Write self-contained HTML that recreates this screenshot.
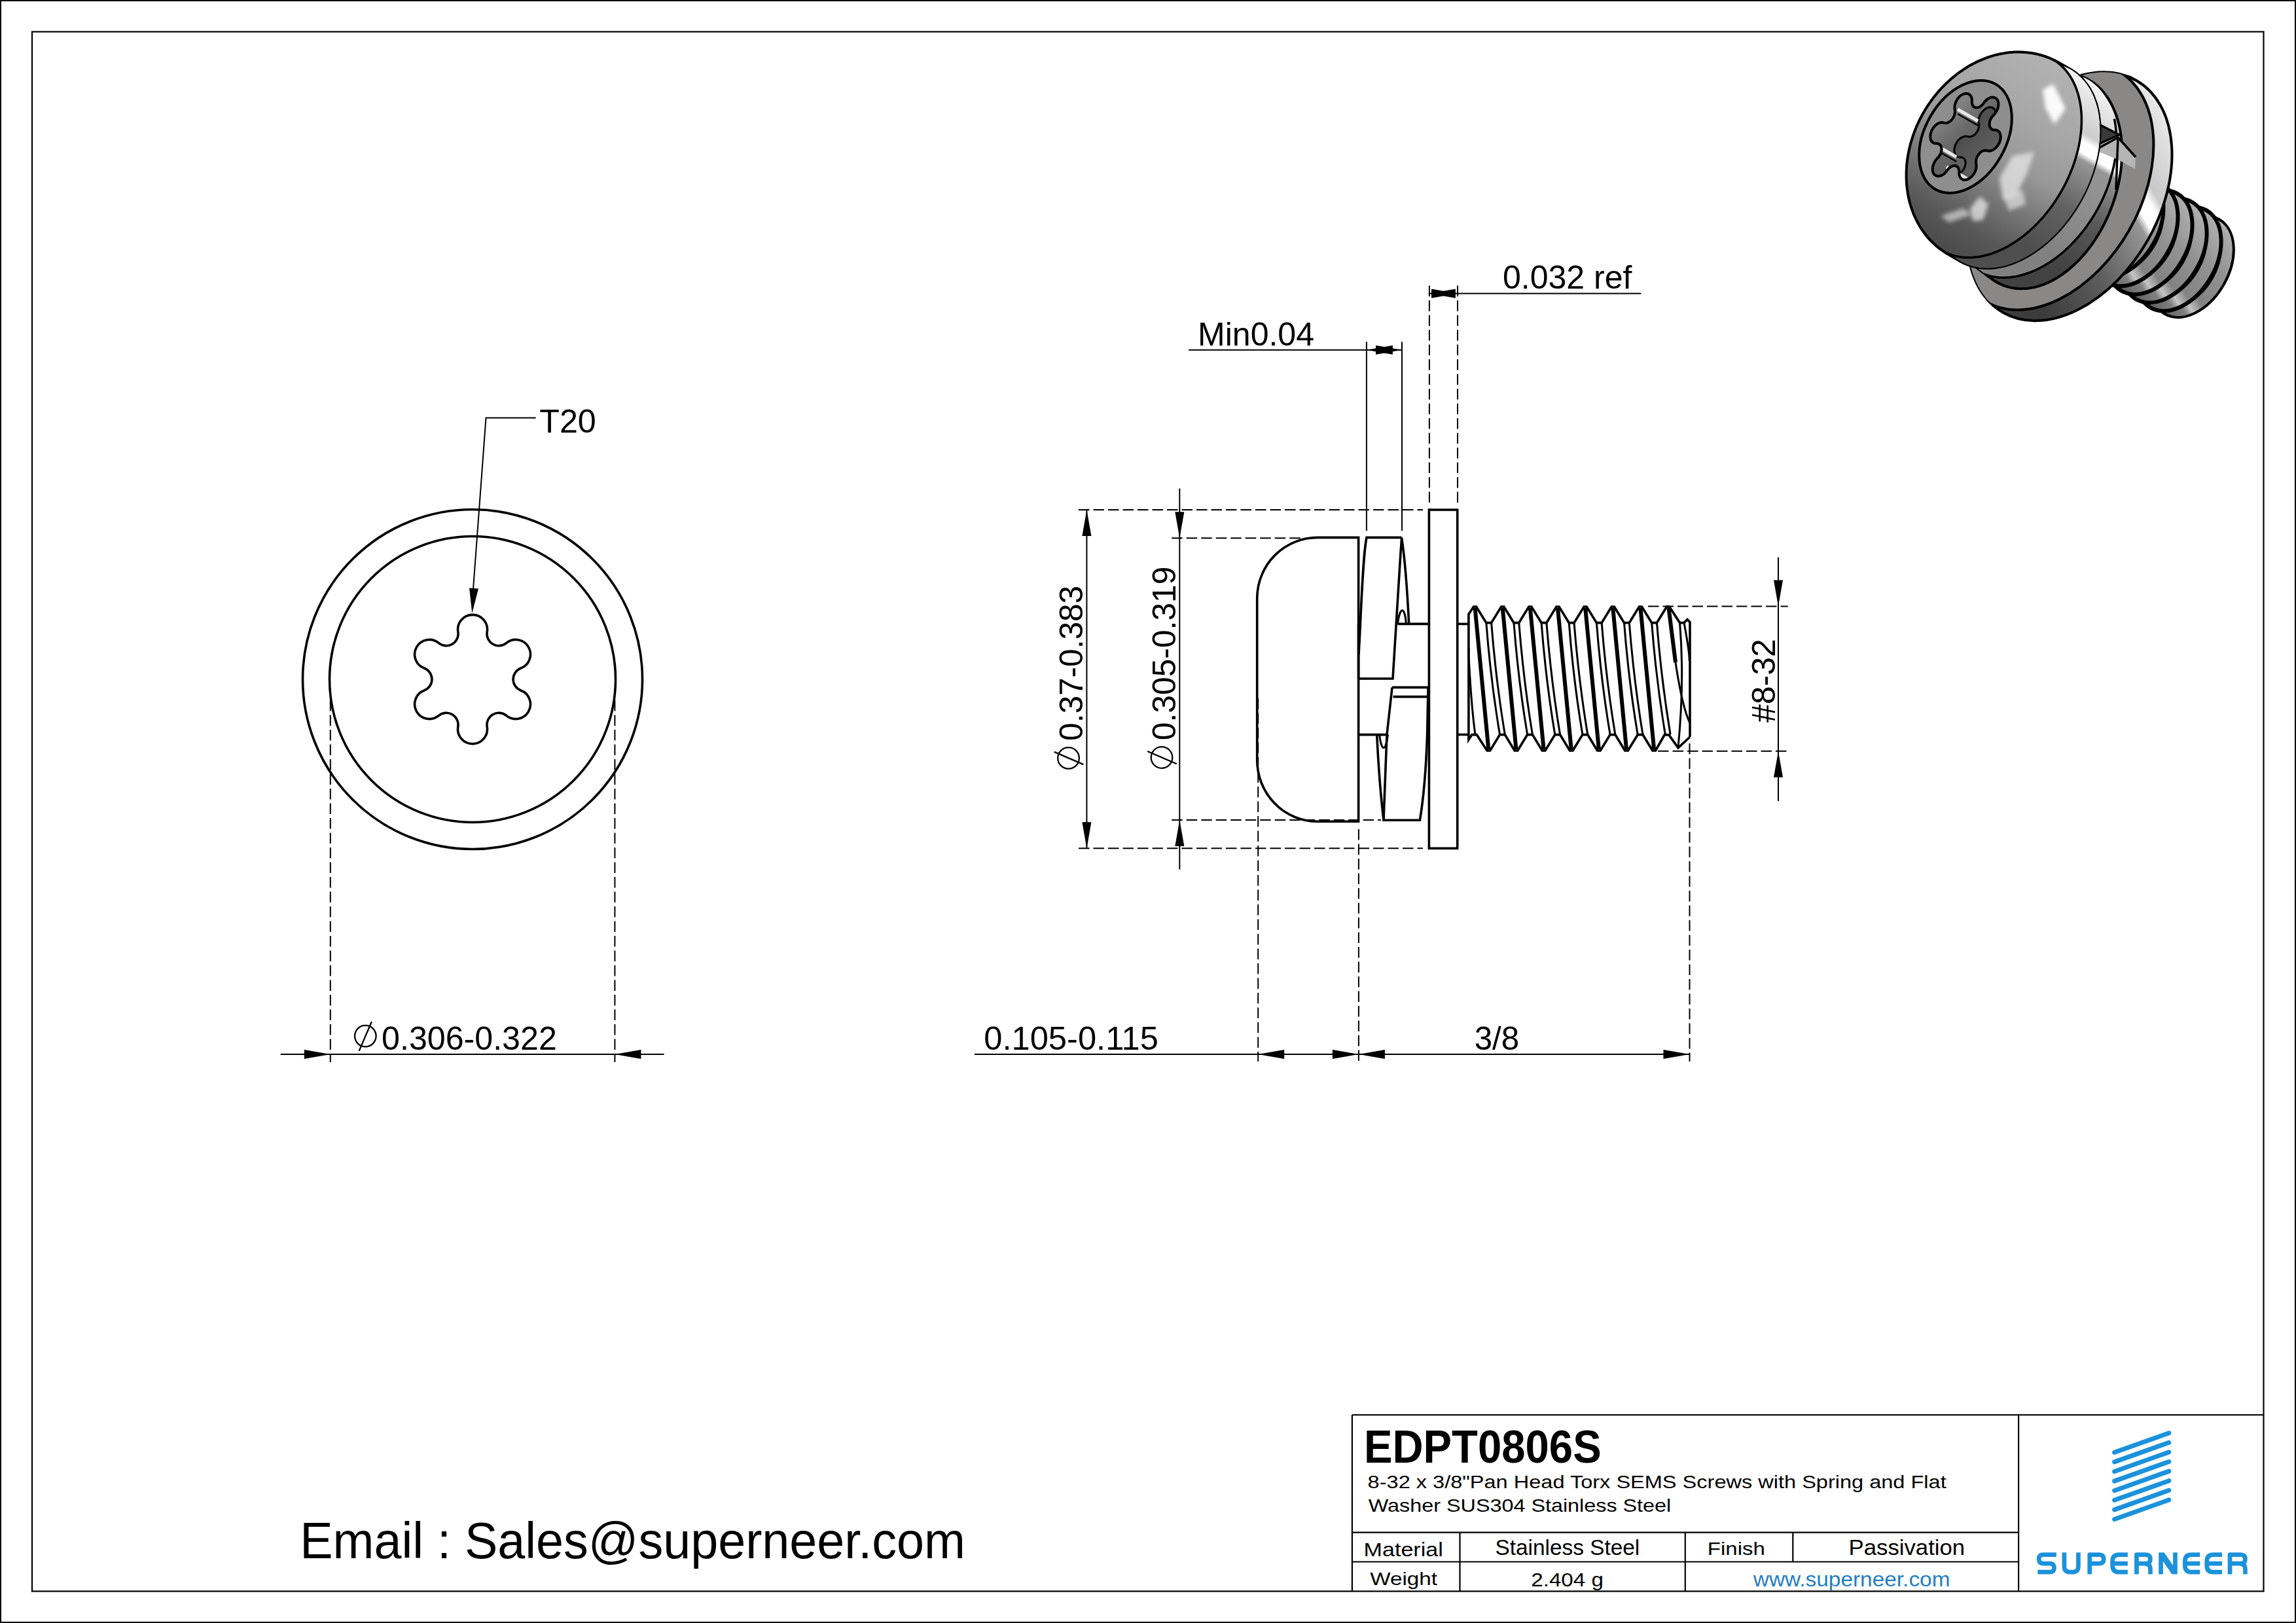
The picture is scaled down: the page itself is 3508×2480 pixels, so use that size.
<!DOCTYPE html>
<html><head><meta charset="utf-8"><style>
html,body{margin:0;padding:0;background:#fff;width:3508px;height:2480px;overflow:hidden}
svg{display:block}
text{font-family:"Liberation Sans",sans-serif}
</style></head><body>
<svg width="3508" height="2480" viewBox="0 0 3508 2480" stroke="#000" fill="none" font-family="Liberation Sans, sans-serif">
<rect x="0" y="0" width="3508" height="2480" fill="#fff" stroke="none"/>
<rect x="0.5" y="0.5" width="3507" height="2479" fill="none" stroke-width="3"/>
<rect x="49" y="48.5" width="3409.5" height="2383" fill="none" stroke-width="2.2"/>
<circle cx="722" cy="1038" r="259.5" fill="none" stroke-width="3.6"/>
<circle cx="722" cy="1038" r="218.5" fill="none" stroke-width="3.6"/>
<path d="M699.83,965.64 A22.5,22.5 0 1 1 744.2,965.65 A18.15,18.15 0 0 0 773.58,982.63 A22.5,22.5 0 1 1 795.76,1021.05 A18.15,18.15 0 0 0 795.74,1054.98 A22.5,22.5 0 1 1 773.56,1093.4 A18.15,18.15 0 0 0 744.17,1110.36 A22.5,22.5 0 1 1 699.8,1110.35 A18.15,18.15 0 0 0 670.42,1093.37 A22.5,22.5 0 1 1 648.24,1054.95 A18.15,18.15 0 0 0 648.26,1021.02 A22.5,22.5 0 1 1 670.44,982.6 A18.15,18.15 0 0 0 699.83,965.64 Z" stroke-width="3.6" fill="none" />
<path d="M818.7,638.5 L742.5,638.5 L721.5,920" stroke-width="2" fill="none" />
<path d="M721.3,937 L717.02,898.6 L730.98,899.59 Z" fill="#000" stroke="none"/>
<text id="T20" x="824.18" y="661" font-size="50" text-anchor="start" font-weight="normal" fill="#000" stroke="none" textLength="86.63" lengthAdjust="spacingAndGlyphs" >T20</text>
<line x1="428.7" y1="1610.9" x2="1014.6" y2="1610.9" stroke-width="2" stroke-linecap="butt"/>
<line x1="504.8" y1="1070" x2="504.8" y2="1623" stroke-width="2" stroke-dasharray="16.5 6" stroke-linecap="butt"/>
<line x1="939.4" y1="1070" x2="939.4" y2="1623" stroke-width="2" stroke-dasharray="16.5 6" stroke-linecap="butt"/>
<path d="M504.8,1610.9 L464.8,1617.9 L464.8,1603.9 Z" fill="#000" stroke="none"/>
<path d="M939.4,1610.9 L979.4,1603.9 L979.4,1617.9 Z" fill="#000" stroke="none"/>
<g transform="translate(558.3,1583.1) rotate(0)"><circle cx="0" cy="0" r="16.3" fill="none" stroke-width="2.3"/><line x1="-9.7" y1="22.8" x2="9.5" y2="-21.8" stroke-width="2.3"/></g>
<text id="d306" x="583.09" y="1603.6" font-size="50" text-anchor="start" font-weight="normal" fill="#000" stroke="none" textLength="267.72" lengthAdjust="spacingAndGlyphs" >0.306-0.322</text>
<line x1="1648" y1="778.9" x2="2174" y2="778.9" stroke-width="2" stroke-dasharray="16.5 6" stroke-linecap="butt"/>
<line x1="1648" y1="1296.3" x2="2174" y2="1296.3" stroke-width="2" stroke-dasharray="16.5 6" stroke-linecap="butt"/>
<line x1="1660.4" y1="778.9" x2="1660.4" y2="1296.3" stroke-width="2" stroke-linecap="butt"/>
<path d="M1660.4,778.9 L1667.4,818.9 L1653.4,818.9 Z" fill="#000" stroke="none"/>
<path d="M1660.4,1296.3 L1653.4,1256.3 L1667.4,1256.3 Z" fill="#000" stroke="none"/>
<text id="d37" x="1653.6" y="1131.89" font-size="50" text-anchor="start" font-weight="normal" fill="#000" stroke="none" transform="rotate(-90 1653.6 1131.89)" textLength="237.07" lengthAdjust="spacingAndGlyphs" >0.37-0.383</text>
<g transform="translate(1632.5,1158.4) rotate(-90)"><circle cx="0" cy="0" r="16.3" fill="none" stroke-width="2.3"/><line x1="-9.7" y1="22.8" x2="9.5" y2="-21.8" stroke-width="2.3"/></g>
<line x1="1790.2" y1="822.3" x2="1990" y2="822.3" stroke-width="2" stroke-dasharray="16.5 6" stroke-linecap="butt"/>
<line x1="1790.2" y1="1252.9" x2="2110" y2="1252.9" stroke-width="2" stroke-dasharray="16.5 6" stroke-linecap="butt"/>
<line x1="1802.3" y1="746.6" x2="1802.3" y2="1328.5" stroke-width="2" stroke-linecap="butt"/>
<path d="M1802.3,822.3 L1795.3,782.3 L1809.3,782.3 Z" fill="#000" stroke="none"/>
<path d="M1802.3,1252.9 L1809.3,1292.9 L1795.3,1292.9 Z" fill="#000" stroke="none"/>
<text id="d305" x="1796.1" y="1131.2" font-size="50" text-anchor="start" font-weight="normal" fill="#000" stroke="none" transform="rotate(-90 1796.1 1131.2)" textLength="265.69" lengthAdjust="spacingAndGlyphs" >0.305-0.319</text>
<g transform="translate(1775,1157.5) rotate(-90)"><circle cx="0" cy="0" r="16.3" fill="none" stroke-width="2.3"/><line x1="-9.7" y1="22.8" x2="9.5" y2="-21.8" stroke-width="2.3"/></g>
<path d="M2075.6,821.4 L2013,821.4 A92,93 0 0 0 1920.7,914 L1920.7,1161 A92,94 0 0 0 2013,1255.3 L2075.6,1255.3 Z" stroke-width="3.6" fill="none" />
<path d="M2076,1000 C2080,930 2082,850 2088,821.4 L2141.5,821.4" stroke-width="3.6" fill="none" />
<path d="M2141.5,821.4 C2146,850 2150,900 2152.7,953.4" stroke-width="3.6" fill="none" />
<path d="M2141.5,823 C2136,900 2132,980 2128,1037 L2075.6,1037" stroke-width="3.6" fill="none" />
<path d="M2135.5,953.4 C2137,940 2140,932.7 2142.4,932.7 C2145,932.7 2147.5,940 2148.4,953.4" stroke-width="3" fill="none" />
<line x1="2135.5" y1="953.4" x2="2183.4" y2="953.4" stroke-width="3.6" stroke-linecap="butt"/>
<line x1="2127" y1="1050.4" x2="2183.4" y2="1050.4" stroke-width="3.6" stroke-linecap="butt"/>
<line x1="2128.5" y1="1064.6" x2="2180" y2="1064.6" stroke-width="3.6" stroke-linecap="butt"/>
<path d="M2127,1050.4 L2119,1122.6 C2117,1170 2115,1220 2114,1253.2 L2169.4,1253.2 C2175,1220 2179,1170 2180.6,1122.6 L2182,1050.4" stroke-width="3.6" fill="none" />
<path d="M2103.7,1122.6 C2106,1170 2110,1220 2114,1253.2" stroke-width="3.6" fill="none" />
<path d="M2107.7,1122.6 C2109,1135 2111.5,1142.6 2114,1142.6 C2116.5,1142.6 2119,1135 2120.5,1122.6" stroke-width="3" fill="none" />
<line x1="2075.6" y1="1122.6" x2="2120.5" y2="1122.6" stroke-width="3.6" stroke-linecap="butt"/>
<line x1="2075.6" y1="953.4" x2="2075.6" y2="1037" stroke-width="3.6" stroke-linecap="butt"/>
<rect x="2183.4" y="779" width="43.3" height="517.3" fill="none" stroke-width="3.6"/>
<line x1="2226.7" y1="953.4" x2="2244" y2="953.4" stroke-width="3.6" stroke-linecap="butt"/>
<line x1="2226.7" y1="1122.5" x2="2244" y2="1122.5" stroke-width="3.6" stroke-linecap="butt"/>
<path d="M2243.9,1000 L2243.9,938.5 L2251.6,927 L2251.6,927 L2255.6,927 L2270.8,951.6 L2278.6,951.6 L2293.74,927 L2297.74,927 L2312.94,951.6 L2320.74,951.6 L2335.88,927 L2339.88,927 L2355.08,951.6 L2362.88,951.6 L2378.02,927 L2382.02,927 L2397.22,951.6 L2405.02,951.6 L2420.16,927 L2424.16,927 L2439.36,951.6 L2447.16,951.6 L2462.3,927 L2466.3,927 L2481.5,951.6 L2489.3,951.6 L2504.44,927 L2508.44,927 L2523.64,951.6 L2531.44,951.6 L2546.58,927 L2550.58,927 L2566.5,951.6 L2573,951.6 L2578,946.6 L2582,950.7 L2582,1126" stroke-width="3.6" fill="none" />
<path d="M2243.9,990 L2243.9,1130.3 L2249,1122.6 L2256.2,1122.6 L2272,1147 L2276.6,1147 L2291.5,1122.6 L2299.3,1122.6 L2314.14,1147 L2318.74,1147 L2333.64,1122.6 L2341.44,1122.6 L2356.28,1147 L2360.88,1147 L2375.78,1122.6 L2383.58,1122.6 L2398.42,1147 L2403.02,1147 L2417.92,1122.6 L2425.72,1122.6 L2440.56,1147 L2445.16,1147 L2460.06,1122.6 L2467.86,1122.6 L2482.7,1147 L2487.3,1147 L2502.2,1122.6 L2510,1122.6 L2524.84,1147 L2529.44,1147 L2543.2,1122.9 L2549.9,1122.9 L2564,1142.8 L2582,1126" stroke-width="3.6" fill="none" />
<line x1="2253.6" y1="929" x2="2274.3" y2="1145" stroke-width="6" stroke-linecap="butt"/>
<path d="M2270.8,951.6 Q2277.6,1040 2291.5,1122.6" stroke-width="3" fill="none" />
<path d="M2278.6,951.6 Q2285.6,1040 2299.3,1122.6" stroke-width="3" fill="none" />
<line x1="2295.74" y1="929" x2="2316.44" y2="1145" stroke-width="6" stroke-linecap="butt"/>
<path d="M2312.94,951.6 Q2319.74,1040 2333.64,1122.6" stroke-width="3" fill="none" />
<path d="M2320.74,951.6 Q2327.74,1040 2341.44,1122.6" stroke-width="3" fill="none" />
<line x1="2337.88" y1="929" x2="2358.58" y2="1145" stroke-width="6" stroke-linecap="butt"/>
<path d="M2355.08,951.6 Q2361.88,1040 2375.78,1122.6" stroke-width="3" fill="none" />
<path d="M2362.88,951.6 Q2369.88,1040 2383.58,1122.6" stroke-width="3" fill="none" />
<line x1="2380.02" y1="929" x2="2400.72" y2="1145" stroke-width="6" stroke-linecap="butt"/>
<path d="M2397.22,951.6 Q2404.02,1040 2417.92,1122.6" stroke-width="3" fill="none" />
<path d="M2405.02,951.6 Q2412.02,1040 2425.72,1122.6" stroke-width="3" fill="none" />
<line x1="2422.16" y1="929" x2="2442.86" y2="1145" stroke-width="6" stroke-linecap="butt"/>
<path d="M2439.36,951.6 Q2446.16,1040 2460.06,1122.6" stroke-width="3" fill="none" />
<path d="M2447.16,951.6 Q2454.16,1040 2467.86,1122.6" stroke-width="3" fill="none" />
<line x1="2464.3" y1="929" x2="2485" y2="1145" stroke-width="6" stroke-linecap="butt"/>
<path d="M2481.5,951.6 Q2488.3,1040 2502.2,1122.6" stroke-width="3" fill="none" />
<path d="M2489.3,951.6 Q2496.3,1040 2510,1122.6" stroke-width="3" fill="none" />
<line x1="2506.44" y1="929" x2="2527.14" y2="1145" stroke-width="6" stroke-linecap="butt"/>
<path d="M2523.64,951.6 Q2530.44,1040 2544.34,1122.6" stroke-width="3" fill="none" />
<path d="M2531.44,951.6 Q2538.44,1040 2552.14,1122.6" stroke-width="3" fill="none" />
<path d="M2549.5,929 L2560,1012" stroke-width="6" fill="none" />
<path d="M2560,1012 Q2570,1080 2582,1105" stroke-width="3" fill="none" />
<path d="M2566.5,951.6 Q2574,1040 2564,1142" stroke-width="3" fill="none" />
<path d="M2573,951.6 Q2582,1000 2581,1010" stroke-width="3" fill="none" />
<path d="M2243.9,1000 Q2248,1080 2254,1122.6" stroke-width="3" fill="none" />
<line x1="2087.9" y1="522.2" x2="2087.9" y2="811" stroke-width="2" stroke-linecap="butt"/>
<line x1="2142" y1="522.2" x2="2142" y2="811" stroke-width="2" stroke-linecap="butt"/>
<line x1="2183.9" y1="436.4" x2="2183.9" y2="770" stroke-width="2" stroke-dasharray="16.5 6" stroke-linecap="butt"/>
<line x1="2227" y1="436.4" x2="2227" y2="770" stroke-width="2" stroke-dasharray="16.5 6" stroke-linecap="butt"/>
<line x1="1816.1" y1="534.7" x2="2142.3" y2="534.7" stroke-width="2" stroke-linecap="butt"/>
<path d="M2087.9,534.7 L2127.9,527.7 L2127.9,541.7 Z" fill="#000" stroke="none"/>
<path d="M2142,534.7 L2102,541.7 L2102,527.7 Z" fill="#000" stroke="none"/>
<text id="min" x="1830.09" y="528.3" font-size="50" text-anchor="start" font-weight="normal" fill="#000" stroke="none" textLength="177.91" lengthAdjust="spacingAndGlyphs" >Min0.04</text>
<line x1="2183.5" y1="448.5" x2="2507.4" y2="448.5" stroke-width="2" stroke-linecap="butt"/>
<path d="M2227,448.5 L2187,455.5 L2187,441.5 Z" fill="#000" stroke="none"/>
<path d="M2183.9,448.5 L2223.9,441.5 L2223.9,455.5 Z" fill="#000" stroke="none"/>
<text id="ref" x="2296" y="441.2" font-size="50" text-anchor="start" font-weight="normal" fill="#000" stroke="none" textLength="197.41" lengthAdjust="spacingAndGlyphs" >0.032 ref</text>
<line x1="1488.9" y1="1610.9" x2="2582.3" y2="1610.9" stroke-width="2" stroke-linecap="butt"/>
<line x1="1922.2" y1="1067" x2="1922.2" y2="1622" stroke-width="2" stroke-dasharray="16.5 6" stroke-linecap="butt"/>
<line x1="2075.9" y1="1267" x2="2075.9" y2="1622" stroke-width="2" stroke-dasharray="16.5 6" stroke-linecap="butt"/>
<line x1="2581.5" y1="1136" x2="2581.5" y2="1622" stroke-width="2" stroke-dasharray="16.5 6" stroke-linecap="butt"/>
<path d="M1922.2,1610.9 L1962.2,1603.9 L1962.2,1617.9 Z" fill="#000" stroke="none"/>
<path d="M2075.9,1610.9 L2035.9,1617.9 L2035.9,1603.9 Z" fill="#000" stroke="none"/>
<path d="M2075.9,1610.9 L2115.9,1603.9 L2115.9,1617.9 Z" fill="#000" stroke="none"/>
<path d="M2581.5,1610.9 L2541.5,1617.9 L2541.5,1603.9 Z" fill="#000" stroke="none"/>
<text id="d105" x="1503.26" y="1603.5" font-size="50" text-anchor="start" font-weight="normal" fill="#000" stroke="none" textLength="266.65" lengthAdjust="spacingAndGlyphs" >0.105-0.115</text>
<text id="d38" x="2252.71" y="1603.5" font-size="50" text-anchor="start" font-weight="normal" fill="#000" stroke="none" textLength="68.49" lengthAdjust="spacingAndGlyphs" >3/8</text>
<line x1="2717" y1="851.5" x2="2717" y2="1224" stroke-width="2" stroke-linecap="butt"/>
<line x1="2518" y1="926.5" x2="2731.7" y2="926.5" stroke-width="2" stroke-dasharray="16.5 6" stroke-linecap="butt"/>
<line x1="2533" y1="1147.7" x2="2731.7" y2="1147.7" stroke-width="2" stroke-dasharray="16.5 6" stroke-linecap="butt"/>
<path d="M2717,926.5 L2710,886.5 L2724,886.5 Z" fill="#000" stroke="none"/>
<path d="M2717,1147.7 L2724,1187.7 L2710,1187.7 Z" fill="#000" stroke="none"/>
<text id="d832" x="2711.5" y="1104" font-size="50" text-anchor="start" font-weight="normal" fill="#000" stroke="none" transform="rotate(-90 2711.5 1104)" textLength="127.89" lengthAdjust="spacingAndGlyphs" >#8-32</text>
<line x1="2065.9" y1="2162" x2="3458.5" y2="2162" stroke-width="2.2" stroke-linecap="butt"/>
<line x1="2065.9" y1="2162" x2="2065.9" y2="2431.5" stroke-width="2.2" stroke-linecap="butt"/>
<line x1="3084.1" y1="2162" x2="3084.1" y2="2431.5" stroke-width="2.2" stroke-linecap="butt"/>
<line x1="2065.9" y1="2341.6" x2="3084.1" y2="2341.6" stroke-width="2.2" stroke-linecap="butt"/>
<line x1="2065.9" y1="2386.5" x2="3084.1" y2="2386.5" stroke-width="2.2" stroke-linecap="butt"/>
<line x1="2230.5" y1="2341.6" x2="2230.5" y2="2431.5" stroke-width="2.2" stroke-linecap="butt"/>
<line x1="2574.8" y1="2341.6" x2="2574.8" y2="2431.5" stroke-width="2.2" stroke-linecap="butt"/>
<line x1="2739.3" y1="2341.6" x2="2739.3" y2="2386.5" stroke-width="2.2" stroke-linecap="butt"/>
<text id="edpt" x="2083.96" y="2235" font-size="69.5" text-anchor="start" font-weight="bold" fill="#000" stroke="none" textLength="362.7" lengthAdjust="spacingAndGlyphs" >EDPT0806S</text>
<text id="desc1" x="2089.63" y="2274.1" font-size="27.8" text-anchor="start" font-weight="normal" fill="#000" stroke="none" textLength="884.07" lengthAdjust="spacingAndGlyphs" >8-32 x 3/8&quot;Pan Head Torx SEMS Screws with Spring and Flat</text>
<text id="desc2" x="2090.8" y="2309.8" font-size="27.8" text-anchor="start" font-weight="normal" fill="#000" stroke="none" textLength="462.46" lengthAdjust="spacingAndGlyphs" >Washer SUS304 Stainless Steel</text>
<text id="mat" x="2083.63" y="2377.6" font-size="29" text-anchor="start" font-weight="normal" fill="#000" stroke="none" textLength="121.11" lengthAdjust="spacingAndGlyphs" >Material</text>
<text id="ss" x="2284.54" y="2375.8" font-size="32.5" text-anchor="start" font-weight="normal" fill="#000" stroke="none" textLength="220.7" lengthAdjust="spacingAndGlyphs" >Stainless Steel</text>
<text id="fin" x="2608.84" y="2376.4" font-size="28" text-anchor="start" font-weight="normal" fill="#000" stroke="none" textLength="87.97" lengthAdjust="spacingAndGlyphs" >Finish</text>
<text id="pas" x="2824.59" y="2375.7" font-size="32.5" text-anchor="start" font-weight="normal" fill="#000" stroke="none" textLength="177.57" lengthAdjust="spacingAndGlyphs" >Passivation</text>
<text id="wt" x="2093.18" y="2421.8" font-size="28.5" text-anchor="start" font-weight="normal" fill="#000" stroke="none" textLength="102.84" lengthAdjust="spacingAndGlyphs" >Weight</text>
<text id="wg" x="2339.25" y="2424.4" font-size="29" text-anchor="start" font-weight="normal" fill="#000" stroke="none" textLength="110.57" lengthAdjust="spacingAndGlyphs" >2.404 g</text>
<text id="www" x="2678.8" y="2423.6" font-size="31" text-anchor="start" font-weight="normal" fill="#1f7fc4" stroke="none" textLength="300.7" lengthAdjust="spacingAndGlyphs" >www.superneer.com</text>
<line x1="3230.6" y1="2219.3" x2="3313.8" y2="2189.7" stroke="#1b92db" stroke-width="7" stroke-linecap="round"/>
<line x1="3230.6" y1="2233.9" x2="3313.8" y2="2204.3" stroke="#1b92db" stroke-width="7" stroke-linecap="round"/>
<line x1="3230.6" y1="2248.5" x2="3313.8" y2="2218.9" stroke="#1b92db" stroke-width="7" stroke-linecap="round"/>
<line x1="3230.6" y1="2263.1" x2="3313.8" y2="2233.5" stroke="#1b92db" stroke-width="7" stroke-linecap="round"/>
<line x1="3230.6" y1="2277.7" x2="3313.8" y2="2248.1" stroke="#1b92db" stroke-width="7" stroke-linecap="round"/>
<line x1="3230.6" y1="2292.3" x2="3313.8" y2="2262.7" stroke="#1b92db" stroke-width="7" stroke-linecap="round"/>
<line x1="3230.6" y1="2306.9" x2="3313.8" y2="2277.3" stroke="#1b92db" stroke-width="7" stroke-linecap="round"/>
<line x1="3230.6" y1="2321.5" x2="3313.8" y2="2291.9" stroke="#1b92db" stroke-width="7" stroke-linecap="round"/>
<path d="M3141.9,2375.55 H3122.15 Q3115.15,2375.55 3115.15,2382.05 Q3115.15,2389.2 3122.15,2389.2 H3131.55 Q3138.55,2389.2 3138.55,2395.7 Q3138.55,2402.15 3131.55,2402.15 H3113.3" fill="none" stroke="#1b92db" stroke-width="6.7" stroke-linejoin="round"/>
<path d="M3153.95,2372.2 V2393.15 Q3153.95,2402.15 3162.95,2402.15 H3166.45 Q3175.45,2402.15 3175.45,2393.15 V2372.2" fill="none" stroke="#1b92db" stroke-width="6.7" stroke-linejoin="round"/>
<path d="M3192.75,2405.5 V2375.55 H3207.25 Q3214.25,2375.55 3214.25,2382.35 Q3214.25,2389.2 3207.25,2389.2 H3192.75" fill="none" stroke="#1b92db" stroke-width="6.7" stroke-linejoin="round"/>
<path d="M3250.9,2375.55 H3237.65 Q3227.65,2375.55 3227.65,2385.55 V2392.15 Q3227.65,2402.15 3237.65,2402.15 H3250.9 M3227.65,2389.2 H3250.9" fill="none" stroke="#1b92db" stroke-width="6.7" stroke-linejoin="round"/>
<path d="M3264.45,2405.5 V2375.55 H3278.45 Q3285.45,2375.55 3285.45,2382.35 Q3285.45,2389.2 3278.45,2389.2 H3264.45" fill="none" stroke="#1b92db" stroke-width="6.7" stroke-linejoin="round"/>
<path d="M3277.45,2389.2 Q3285.45,2390.2 3285.45,2397.2 V2405.5" fill="none" stroke="#1b92db" stroke-width="6.7" stroke-linejoin="round"/>
<path d="M3298.2,2405.5 L3298.2,2372.2 L3306.5,2372.2 L3320.1,2392 L3320.1,2372.2 L3326.8,2372.2 L3326.8,2405.5 L3318.5,2405.5 L3304.9,2385.7 L3304.9,2405.5 Z" fill="#1b92db" stroke="none"/>
<path d="M3361.3,2375.55 H3348.35 Q3338.35,2375.55 3338.35,2385.55 V2392.15 Q3338.35,2402.15 3348.35,2402.15 H3361.3 M3338.35,2389.2 H3361.3" fill="none" stroke="#1b92db" stroke-width="6.7" stroke-linejoin="round"/>
<path d="M3395,2375.55 H3381.75 Q3371.75,2375.55 3371.75,2385.55 V2392.15 Q3371.75,2402.15 3381.75,2402.15 H3395 M3371.75,2389.2 H3395" fill="none" stroke="#1b92db" stroke-width="6.7" stroke-linejoin="round"/>
<path d="M3407.05,2405.5 V2375.55 H3423.45 Q3430.45,2375.55 3430.45,2382.35 Q3430.45,2389.2 3423.45,2389.2 H3407.05" fill="none" stroke="#1b92db" stroke-width="6.7" stroke-linejoin="round"/>
<path d="M3422.45,2389.2 Q3430.45,2390.2 3430.45,2397.2 V2405.5" fill="none" stroke="#1b92db" stroke-width="6.7" stroke-linejoin="round"/>
<text id="email" x="458.15" y="2380.8" font-size="77.4" text-anchor="start" font-weight="normal" fill="#000" stroke="none" textLength="1016.83" lengthAdjust="spacingAndGlyphs" >Email : Sales@superneer.com</text>
<defs><linearGradient id="gthr" gradientUnits="userSpaceOnUse" x1="3297.0" y1="278.8" x2="3211.7" y2="427.4"><stop offset="0" stop-color="#b4b4b4"/><stop offset="0.3" stop-color="#929292"/><stop offset="0.6" stop-color="#828282"/><stop offset="0.7" stop-color="#c4c4c4"/><stop offset="0.76" stop-color="#808080"/><stop offset="1" stop-color="#545454"/></linearGradient>
<linearGradient id="grim" gradientUnits="userSpaceOnUse" x1="3251.4" y1="115.7" x2="3047.9" y2="470.3"><stop offset="0" stop-color="#efefef"/><stop offset="0.22" stop-color="#c8c8c8"/><stop offset="0.255" stop-color="#ffffff"/><stop offset="0.3" stop-color="#ffffff"/><stop offset="0.33" stop-color="#959595"/><stop offset="0.55" stop-color="#5e5e5e"/><stop offset="0.8" stop-color="#3c3c3c"/><stop offset="1" stop-color="#3c3c3c"/></linearGradient>
<clipPath id="cpw"><ellipse cx="3162.2" cy="300.2" rx="136.7" ry="204.5" transform="rotate(29.9 3162.2 300.2)"/></clipPath>
<linearGradient id="gsw" gradientUnits="userSpaceOnUse" x1="3202.4" y1="128.3" x2="3034.1" y2="421.6"><stop offset="0" stop-color="#f0f0f0"/><stop offset="0.22" stop-color="#c4c4c4"/><stop offset="0.255" stop-color="#ffffff"/><stop offset="0.3" stop-color="#ffffff"/><stop offset="0.33" stop-color="#959595"/><stop offset="0.55" stop-color="#585858"/><stop offset="0.8" stop-color="#424242"/><stop offset="1" stop-color="#424242"/></linearGradient>
<clipPath id="cpsw"><path d="M3043.3,426.3 L2992.1,387.9 L2989.9,386.2 L2987.7,384.4 L2985.6,382.4 L2983.5,380.4 L2981.5,378.4 L2979.6,376.2 L2977.8,373.9 L2976.0,371.6 L2974.3,369.1 L2972.6,366.6 L2971.1,364.1 L2969.6,361.4 L2968.1,358.7 L2966.8,355.8 L2965.5,353.0 L2964.3,350.0 L2963.2,347.0 L2962.2,343.9 L2961.3,340.8 L2960.4,337.6 L2959.6,334.3 L2958.9,331.0 L2958.3,327.6 L2957.7,324.2 L2957.3,320.8 L2956.9,317.2 L2956.6,313.7 L2956.4,310.1 L2956.3,306.4 L2956.3,302.8 L2956.3,299.0 L2956.5,295.3 L2956.7,291.5 L2957.0,287.7 L2957.4,283.9 L2957.8,280.1 L2958.4,276.2 L2959.0,272.3 L2959.7,268.4 L2960.6,264.5 L2961.4,260.6 L2962.4,256.7 L2963.4,252.8 L2964.6,248.8 L2965.8,244.9 L2967.0,241.0 L2968.4,237.1 L2969.8,233.2 L2971.3,229.3 L2972.9,225.5 L2974.6,221.6 L2976.3,217.8 L2978.1,214.0 L2980.0,210.2 L2981.9,206.5 L2983.9,202.8 L2986.0,199.1 L2988.1,195.5 L2990.3,191.9 L2992.6,188.3 L2994.9,184.8 L2997.3,181.3 L2999.7,177.9 L3002.2,174.5 L3004.7,171.2 L3007.3,167.9 L3009.9,164.7 L3012.6,161.6 L3015.4,158.5 L3018.1,155.5 L3021.0,152.6 L3023.8,149.7 L3026.7,146.9 L3029.6,144.1 L3032.6,141.5 L3035.6,138.9 L3038.6,136.4 L3041.7,134.0 L3044.8,131.6 L3047.9,129.3 L3051.0,127.2 L3054.2,125.1 L3057.3,123.1 L3060.5,121.1 L3063.7,119.3 L3066.9,117.6 L3070.1,115.9 L3073.3,114.4 L3076.5,112.9 L3079.8,111.6 L3083.0,110.3 L3086.2,109.2 L3089.4,108.1 L3092.6,107.1 L3095.9,106.3 L3099.0,105.5 L3102.2,104.8 L3105.4,104.3 L3108.5,103.8 L3111.6,103.5 L3114.8,103.2 L3117.8,103.0 L3120.9,103.0 L3123.9,103.0 L3126.9,103.2 L3129.9,103.4 L3132.8,103.8 L3135.7,104.3 L3138.5,104.8 L3141.3,105.5 L3144.1,106.3 L3175.7,115.4 L3178.5,116.3 L3181.3,117.3 L3184.0,118.4 L3186.7,119.6 L3189.3,120.9 L3191.9,122.3 L3194.4,123.9 L3196.9,125.5 L3199.4,127.2 L3201.8,129.1 L3204.1,131.0 L3206.4,133.0 L3208.6,135.2 L3210.7,137.4 L3212.8,139.7 L3214.9,142.2 L3216.8,144.7 L3218.7,147.3 L3220.6,150.0 L3222.3,152.8 L3224.0,155.6 L3225.7,158.6 L3227.2,161.6 L3228.7,164.7 L3230.1,167.9 L3231.5,171.2 L3232.7,174.5 L3233.9,177.9 L3235.0,181.4 L3236.0,184.9 L3237.0,188.5 L3237.9,192.2 L3238.7,195.9 L3239.4,199.7 L3240.0,203.5 L3240.6,207.4 L3241.0,211.3 L3241.4,215.2 L3241.7,219.3 L3241.9,223.3 L3242.1,227.4 L3242.1,231.5 L3242.1,235.7 L3242.0,239.8 L3241.8,244.1 L3241.5,248.3 L3241.2,252.5 L3240.7,256.8 L3240.2,261.1 L3239.6,265.4 L3238.9,269.7 L3238.2,274.0 L3237.3,278.3 L3236.4,282.6 L3235.4,286.9 L3234.3,291.2 L3233.1,295.4 L3231.9,299.7 L3230.6,304.0 L3229.2,308.2 L3227.8,312.4 L3226.2,316.6 L3224.6,320.8 L3222.9,324.9 L3221.2,329.0 L3219.4,333.0 L3217.5,337.1 L3215.6,341.1 L3213.5,345.0 L3211.5,348.9 L3209.3,352.7 L3207.1,356.5 L3204.9,360.2 L3202.6,363.9 L3200.2,367.5 L3197.8,371.1 L3195.3,374.6 L3192.8,378.0 L3190.2,381.4 L3187.6,384.7 L3184.9,387.9 L3182.2,391.0 L3179.5,394.1 L3176.7,397.0 L3173.8,399.9 L3171.0,402.7 L3168.1,405.5 L3165.1,408.1 L3162.2,410.6 L3159.2,413.1 L3156.2,415.4 L3153.1,417.7 L3150.1,419.9 L3147.0,421.9 L3143.9,423.9 L3140.8,425.8 L3137.7,427.5 L3134.5,429.2 L3131.4,430.8 L3128.2,432.2 L3125.1,433.6 L3121.9,434.8 L3118.7,435.9 L3115.6,437.0 L3112.4,437.9 L3109.3,438.7 L3106.1,439.4 L3103.0,439.9 L3099.9,440.4 L3096.8,440.8 L3093.7,441.0 L3090.6,441.1 L3087.6,441.2 L3084.6,441.1 L3081.6,440.9 L3078.6,440.5 L3075.6,440.1 L3072.7,439.6 L3069.9,438.9 L3067.0,438.1 L3064.2,437.3 L3061.4,436.3 L3058.7,435.2 L3056.0,434.0 L3053.4,432.7 L3050.8,431.2 L3048.3,429.7 L3045.8,428.1 Z"/></clipPath>
<linearGradient id="gswl" gradientUnits="userSpaceOnUse" x1="3176.2" y1="113.3" x2="3007.9" y2="406.6"><stop offset="0" stop-color="#f4f4f4"/><stop offset="0.22" stop-color="#d0d0d0"/><stop offset="0.255" stop-color="#ffffff"/><stop offset="0.3" stop-color="#ffffff"/><stop offset="0.33" stop-color="#959595"/><stop offset="0.55" stop-color="#8c8c8c"/><stop offset="0.8" stop-color="#808080"/><stop offset="1" stop-color="#808080"/></linearGradient>
<linearGradient id="ghead" gradientUnits="userSpaceOnUse" x1="3129.1" y1="86.3" x2="2960.8" y2="379.6"><stop offset="0" stop-color="#b2b2b2"/><stop offset="0.3" stop-color="#a6a6a6"/><stop offset="0.5" stop-color="#989898"/><stop offset="0.66" stop-color="#7a7a7a"/><stop offset="0.85" stop-color="#585858"/><stop offset="1" stop-color="#4a4a4a"/></linearGradient>
<linearGradient id="gband" gradientUnits="userSpaceOnUse" x1="3150.0" y1="98.3" x2="2981.7" y2="391.6"><stop offset="0" stop-color="#f2f2f2"/><stop offset="0.22" stop-color="#cccccc"/><stop offset="0.255" stop-color="#ffffff"/><stop offset="0.3" stop-color="#ffffff"/><stop offset="0.33" stop-color="#959595"/><stop offset="0.55" stop-color="#626262"/><stop offset="0.8" stop-color="#4e4e4e"/><stop offset="1" stop-color="#4e4e4e"/></linearGradient>
<clipPath id="cph"><path d="M2913.3,284.3 L2913.0,280.3 L2912.8,276.3 L2912.7,273.7 L2912.6,269.7 L2912.6,265.7 L2912.7,261.5 L2912.8,259.2 L2913.0,255.1 L2913.3,251.0 L2913.8,246.9 L2914.3,242.8 L2915.0,238.6 L2915.3,236.7 L2916.1,232.6 L2916.9,228.5 L2917.9,224.4 L2918.9,220.3 L2920.1,216.2 L2921.3,212.1 L2922.7,208.0 L2923.0,206.9 L2924.5,202.9 L2925.9,199.0 L2927.5,195.1 L2929.2,191.1 L2931.0,187.3 L2932.8,183.4 L2934.8,179.6 L2936.8,175.8 L2938.9,172.1 L2941.0,168.4 L2943.3,164.7 L2945.6,161.1 L2948.0,157.6 L2950.5,154.1 L2953.0,150.7 L2955.6,147.3 L2958.3,144.0 L2961.0,140.8 L2961.7,139.9 L2964.6,136.7 L2967.5,133.5 L2970.5,130.5 L2973.5,127.5 L2976.6,124.6 L2979.7,121.8 L2982.8,119.1 L2984.3,117.9 L2987.6,115.2 L2990.9,112.6 L2994.2,110.2 L2997.6,107.8 L3000.9,105.6 L3002.9,104.3 L3006.4,102.1 L3009.9,100.1 L3013.4,98.1 L3015.7,97.0 L3019.3,95.1 L3022.9,93.4 L3026.5,91.8 L3029.0,90.8 L3032.7,89.3 L3036.4,87.9 L3040.1,86.7 L3042.7,85.8 L3046.5,84.7 L3050.2,83.7 L3053.0,83.1 L3056.7,82.3 L3060.5,81.6 L3063.3,81.1 L3067.0,80.6 L3070.8,80.1 L3073.6,79.9 L3077.4,79.6 L3081.1,79.5 L3084.0,79.5 L3087.7,79.5 L3091.4,79.7 L3094.3,79.9 L3097.9,80.2 L3101.5,80.7 L3104.4,81.1 L3107.9,81.7 L3110.8,82.3 L3114.3,83.1 L3117.7,84.0 L3120.5,84.8 L3123.9,85.9 L3126.6,86.9 L3130.0,88.1 L3133.3,89.5 L3135.9,90.7 L3139.1,92.2 L3141.7,93.6 L3144.8,95.3 L3163.6,106.1 L3166.7,107.9 L3169.6,109.9 L3172.5,112.1 L3175.2,114.3 L3177.9,116.7 L3180.5,119.2 L3183.0,121.9 L3185.4,124.7 L3187.6,127.6 L3189.8,130.7 L3191.9,133.8 L3193.8,137.1 L3195.6,140.5 L3197.4,144.0 L3199.0,147.6 L3200.4,151.4 L3201.8,155.2 L3203.1,159.1 L3204.2,163.1 L3205.2,167.2 L3206.0,171.4 L3206.8,175.6 L3207.4,180.0 L3207.9,184.4 L3208.3,188.8 L3208.5,193.4 L3208.7,198.0 L3208.6,202.6 L3208.5,207.3 L3208.2,212.1 L3207.9,216.9 L3207.3,221.7 L3206.7,226.5 L3205.9,231.4 L3205.0,236.3 L3204.0,241.2 L3202.9,246.1 L3201.6,251.1 L3200.2,256.0 L3198.7,260.9 L3197.1,265.9 L3195.3,270.8 L3193.5,275.7 L3191.5,280.5 L3189.5,285.4 L3187.3,290.2 L3185.0,295.0 L3182.6,299.7 L3180.1,304.4 L3177.5,309.0 L3174.8,313.6 L3172.0,318.1 L3169.1,322.6 L3166.2,326.9 L3163.1,331.3 L3160.0,335.5 L3156.8,339.6 L3153.5,343.7 L3150.1,347.7 L3146.7,351.6 L3143.2,355.4 L3139.6,359.0 L3136.0,362.6 L3132.3,366.1 L3128.6,369.4 L3124.8,372.7 L3121.0,375.8 L3117.1,378.8 L3113.2,381.7 L3109.3,384.5 L3105.3,387.1 L3101.4,389.6 L3097.3,391.9 L3093.3,394.1 L3089.3,396.2 L3085.2,398.2 L3081.2,399.9 L3077.1,401.6 L3073.1,403.1 L3069.0,404.4 L3065.0,405.7 L3060.9,406.7 L3056.9,407.6 L3052.9,408.3 L3049.0,408.9 L3045.1,409.4 L3041.2,409.7 L3037.3,409.8 L3033.5,409.8 L3029.7,409.6 L3026.0,409.3 L3022.3,408.8 L3018.7,408.1 L3015.2,407.3 L3011.7,406.4 L3008.3,405.3 L3004.9,404.0 L3001.6,402.6 L2998.4,401.1 L2995.3,399.4 L2976.5,388.6 L2973.4,386.7 L2971.0,385.2 L2968.0,383.2 L2965.7,381.5 L2962.8,379.4 L2960.1,377.2 L2957.8,375.3 L2955.2,372.9 L2953.1,370.9 L2950.5,368.4 L2948.1,365.8 L2946.1,363.6 L2943.8,360.9 L2942.0,358.6 L2939.8,355.7 L2937.7,352.7 L2936.0,350.3 L2934.0,347.2 L2932.2,344.1 L2930.7,341.5 L2929.0,338.3 L2927.3,334.9 L2926.1,332.3 L2924.5,328.9 L2923.1,325.4 L2922.1,322.7 L2920.8,319.1 L2919.6,315.4 L2918.8,312.7 L2917.7,309.0 L2916.8,305.2 L2916.2,302.5 L2915.4,298.7 L2914.7,294.8 L2914.2,290.9 L2913.8,288.3 Z"/></clipPath>
<filter id="blur3" x="-20%" y="-20%" width="140%" height="140%"><feGaussianBlur stdDeviation="3"/></filter>
<linearGradient id="gwall" gradientUnits="userSpaceOnUse" x1="2950.0" y1="150.0" x2="3060.0" y2="280.0"><stop offset="0" stop-color="#9a9a9a"/><stop offset="0.4" stop-color="#6a6a6a"/><stop offset="1" stop-color="#505050"/></linearGradient>
<clipPath id="cptx"><path d="M3045.8,176.2 L3048.7,172.8 L3051.1,168.8 L3052.7,164.5 L3053.4,160.3 L3053.2,156.3 L3052.0,153.0 L3050.0,150.4 L3047.3,148.9 L3044.1,148.5 L3040.6,149.3 L3037.1,151.1 L3033.8,153.9 L3030.9,157.4 L3031.0,157.4 L3028.6,160.3 L3025.9,162.6 L3023.1,164.0 L3020.2,164.6 L3017.6,164.3 L3015.5,163.0 L3013.9,160.9 L3013.0,158.1 L3012.8,154.9 L3012.9,154.9 L3012.7,150.9 L3011.6,147.5 L3009.7,144.9 L3007.0,143.3 L3003.9,142.8 L3000.4,143.5 L2996.8,145.2 L2993.5,147.9 L2990.6,151.4 L2988.4,155.5 L2986.9,159.8 L2986.3,164.0 L2986.7,167.9 L2986.7,167.8 L2987.0,171.0 L2986.5,174.4 L2985.3,177.9 L2983.5,181.2 L2981.1,184.0 L2978.4,186.2 L2975.5,187.6 L2972.7,188.1 L2970.1,187.6 L2970.1,187.6 L2967.0,187.0 L2963.5,187.6 L2960.0,189.2 L2956.7,191.9 L2953.7,195.4 L2951.4,199.4 L2949.9,203.6 L2949.2,207.9 L2949.5,211.8 L2950.7,215.1 L2952.8,217.6 L2955.5,219.0 L2958.8,219.3 L2958.8,219.3 L2961.4,219.6 L2963.6,220.7 L2965.3,222.8 L2966.3,225.5 L2966.5,228.7 L2965.9,232.1 L2964.7,235.6 L2962.7,238.8 L2960.3,241.6 L2960.3,241.6 L2957.3,245.0 L2955.0,249.0 L2953.4,253.2 L2952.7,257.5 L2952.9,261.4 L2954.0,264.8 L2956.0,267.3 L2958.7,268.8 L2961.9,269.2 L2965.4,268.5 L2968.9,266.7 L2972.3,263.9 L2975.1,260.3 L2975.1,260.3 L2977.4,257.4 L2980.1,255.2 L2983.0,253.7 L2985.8,253.1 L2988.4,253.5 L2990.6,254.8 L2992.2,256.9 L2993.1,259.6 L2993.2,262.9 L2993.2,262.9 L2993.4,266.9 L2994.4,270.3 L2996.4,272.9 L2999.0,274.5 L3002.2,275.0 L3005.7,274.3 L3009.2,272.5 L3012.5,269.8 L3015.4,266.3 L3017.7,262.3 L3019.2,258.0 L3019.7,253.8 L3019.4,249.9 L3019.3,249.9 L3019.0,246.8 L3019.5,243.3 L3020.7,239.8 L3022.6,236.6 L3025.0,233.7 L3027.7,231.5 L3030.6,230.2 L3033.4,229.7 L3035.9,230.2 L3035.9,230.2 L3039.1,230.8 L3042.5,230.2 L3046.1,228.5 L3049.4,225.9 L3052.3,222.4 L3054.7,218.4 L3056.2,214.1 L3056.8,209.9 L3056.5,206.0 L3055.3,202.7 L3053.3,200.2 L3050.5,198.8 L3047.3,198.4 L3047.3,198.5 L3044.6,198.2 L3042.4,197.0 L3040.8,195.0 L3039.8,192.3 L3039.6,189.1 L3040.1,185.6 L3041.4,182.2 L3043.3,178.9 L3045.7,176.2 Z"/></clipPath>
<linearGradient id="gtbot" gradientUnits="userSpaceOnUse" x1="2960.0" y1="170.0" x2="3070.0" y2="270.0"><stop offset="0" stop-color="#3c3c3c"/><stop offset="0.6" stop-color="#5a5a5a"/><stop offset="1" stop-color="#6e6e6e"/></linearGradient></defs>
<ellipse cx="3349.1" cy="407.5" rx="55.7" ry="83.4" transform="rotate(29.9 3349.1 407.5)" fill="url(#gthr)" stroke="#000" stroke-width="4" />
<ellipse cx="3339.1" cy="401.8" rx="47.3" ry="70.8" transform="rotate(29.9 3339.1 401.8)" fill="url(#gthr)" stroke="#000" stroke-width="3" />
<ellipse cx="3328.1" cy="395.5" rx="57.3" ry="85.7" transform="rotate(29.9 3328.1 395.5)" fill="url(#gthr)" stroke="#000" stroke-width="6" />
<ellipse cx="3317.1" cy="389.1" rx="47.3" ry="70.8" transform="rotate(29.9 3317.1 389.1)" fill="url(#gthr)" stroke="#000" stroke-width="3" />
<ellipse cx="3306.1" cy="382.8" rx="57.3" ry="85.7" transform="rotate(29.9 3306.1 382.8)" fill="url(#gthr)" stroke="#000" stroke-width="6" />
<ellipse cx="3295.0" cy="376.4" rx="47.3" ry="70.8" transform="rotate(29.9 3295.0 376.4)" fill="url(#gthr)" stroke="#000" stroke-width="3" />
<ellipse cx="3284.0" cy="370.1" rx="57.3" ry="85.7" transform="rotate(29.9 3284.0 370.1)" fill="url(#gthr)" stroke="#000" stroke-width="6" />
<ellipse cx="3272.9" cy="363.8" rx="47.3" ry="70.8" transform="rotate(29.9 3272.9 363.8)" fill="url(#gthr)" stroke="#000" stroke-width="3" />
<ellipse cx="3262.0" cy="357.5" rx="57.3" ry="85.7" transform="rotate(29.9 3262.0 357.5)" fill="url(#gthr)" stroke="#000" stroke-width="6" />
<ellipse cx="3250.9" cy="351.1" rx="47.3" ry="70.8" transform="rotate(29.9 3250.9 351.1)" fill="url(#gthr)" stroke="#000" stroke-width="3" />
<ellipse cx="3239.9" cy="344.8" rx="57.3" ry="85.7" transform="rotate(29.9 3239.9 344.8)" fill="url(#gthr)" stroke="#000" stroke-width="6" />
<ellipse cx="3228.8" cy="338.5" rx="47.3" ry="70.8" transform="rotate(29.9 3228.8 338.5)" fill="url(#gthr)" stroke="#000" stroke-width="3" />
<ellipse cx="3217.8" cy="332.2" rx="57.3" ry="85.7" transform="rotate(29.9 3217.8 332.2)" fill="url(#gthr)" stroke="#000" stroke-width="6" />
<ellipse cx="3206.8" cy="325.8" rx="47.3" ry="70.8" transform="rotate(29.9 3206.8 325.8)" fill="url(#gthr)" stroke="#000" stroke-width="3" />
<ellipse cx="3195.8" cy="319.5" rx="57.3" ry="85.7" transform="rotate(29.9 3195.8 319.5)" fill="url(#gthr)" stroke="#000" stroke-width="6" />
<ellipse cx="3184.7" cy="313.1" rx="47.3" ry="70.8" transform="rotate(29.9 3184.7 313.1)" fill="url(#gthr)" stroke="#000" stroke-width="3" />
<ellipse cx="3173.7" cy="306.8" rx="57.3" ry="85.7" transform="rotate(29.9 3173.7 306.8)" fill="url(#gthr)" stroke="#000" stroke-width="6" />
<ellipse cx="3162.2" cy="300.2" rx="136.7" ry="204.5" transform="rotate(29.9 3162.2 300.2)" fill="url(#grim)" stroke="#000" stroke-width="4" />
<g clip-path="url(#cpw)">
<ellipse cx="3135.0" cy="284.6" rx="135.9" ry="203.3" transform="rotate(29.9 3135.0 284.6)" fill="#8a8787" stroke="#000" stroke-width="4" />
</g>
<path d="M3043.3,426.3 L2992.1,387.9 L2989.9,386.2 L2987.7,384.4 L2985.6,382.4 L2983.5,380.4 L2981.5,378.4 L2979.6,376.2 L2977.8,373.9 L2976.0,371.6 L2974.3,369.1 L2972.6,366.6 L2971.1,364.1 L2969.6,361.4 L2968.1,358.7 L2966.8,355.8 L2965.5,353.0 L2964.3,350.0 L2963.2,347.0 L2962.2,343.9 L2961.3,340.8 L2960.4,337.6 L2959.6,334.3 L2958.9,331.0 L2958.3,327.6 L2957.7,324.2 L2957.3,320.8 L2956.9,317.2 L2956.6,313.7 L2956.4,310.1 L2956.3,306.4 L2956.3,302.8 L2956.3,299.0 L2956.5,295.3 L2956.7,291.5 L2957.0,287.7 L2957.4,283.9 L2957.8,280.1 L2958.4,276.2 L2959.0,272.3 L2959.7,268.4 L2960.6,264.5 L2961.4,260.6 L2962.4,256.7 L2963.4,252.8 L2964.6,248.8 L2965.8,244.9 L2967.0,241.0 L2968.4,237.1 L2969.8,233.2 L2971.3,229.3 L2972.9,225.5 L2974.6,221.6 L2976.3,217.8 L2978.1,214.0 L2980.0,210.2 L2981.9,206.5 L2983.9,202.8 L2986.0,199.1 L2988.1,195.5 L2990.3,191.9 L2992.6,188.3 L2994.9,184.8 L2997.3,181.3 L2999.7,177.9 L3002.2,174.5 L3004.7,171.2 L3007.3,167.9 L3009.9,164.7 L3012.6,161.6 L3015.4,158.5 L3018.1,155.5 L3021.0,152.6 L3023.8,149.7 L3026.7,146.9 L3029.6,144.1 L3032.6,141.5 L3035.6,138.9 L3038.6,136.4 L3041.7,134.0 L3044.8,131.6 L3047.9,129.3 L3051.0,127.2 L3054.2,125.1 L3057.3,123.1 L3060.5,121.1 L3063.7,119.3 L3066.9,117.6 L3070.1,115.9 L3073.3,114.4 L3076.5,112.9 L3079.8,111.6 L3083.0,110.3 L3086.2,109.2 L3089.4,108.1 L3092.6,107.1 L3095.9,106.3 L3099.0,105.5 L3102.2,104.8 L3105.4,104.3 L3108.5,103.8 L3111.6,103.5 L3114.8,103.2 L3117.8,103.0 L3120.9,103.0 L3123.9,103.0 L3126.9,103.2 L3129.9,103.4 L3132.8,103.8 L3135.7,104.3 L3138.5,104.8 L3141.3,105.5 L3144.1,106.3 L3175.7,115.4 L3178.5,116.3 L3181.3,117.3 L3184.0,118.4 L3186.7,119.6 L3189.3,120.9 L3191.9,122.3 L3194.4,123.9 L3196.9,125.5 L3199.4,127.2 L3201.8,129.1 L3204.1,131.0 L3206.4,133.0 L3208.6,135.2 L3210.7,137.4 L3212.8,139.7 L3214.9,142.2 L3216.8,144.7 L3218.7,147.3 L3220.6,150.0 L3222.3,152.8 L3224.0,155.6 L3225.7,158.6 L3227.2,161.6 L3228.7,164.7 L3230.1,167.9 L3231.5,171.2 L3232.7,174.5 L3233.9,177.9 L3235.0,181.4 L3236.0,184.9 L3237.0,188.5 L3237.9,192.2 L3238.7,195.9 L3239.4,199.7 L3240.0,203.5 L3240.6,207.4 L3241.0,211.3 L3241.4,215.2 L3241.7,219.3 L3241.9,223.3 L3242.1,227.4 L3242.1,231.5 L3242.1,235.7 L3242.0,239.8 L3241.8,244.1 L3241.5,248.3 L3241.2,252.5 L3240.7,256.8 L3240.2,261.1 L3239.6,265.4 L3238.9,269.7 L3238.2,274.0 L3237.3,278.3 L3236.4,282.6 L3235.4,286.9 L3234.3,291.2 L3233.1,295.4 L3231.9,299.7 L3230.6,304.0 L3229.2,308.2 L3227.8,312.4 L3226.2,316.6 L3224.6,320.8 L3222.9,324.9 L3221.2,329.0 L3219.4,333.0 L3217.5,337.1 L3215.6,341.1 L3213.5,345.0 L3211.5,348.9 L3209.3,352.7 L3207.1,356.5 L3204.9,360.2 L3202.6,363.9 L3200.2,367.5 L3197.8,371.1 L3195.3,374.6 L3192.8,378.0 L3190.2,381.4 L3187.6,384.7 L3184.9,387.9 L3182.2,391.0 L3179.5,394.1 L3176.7,397.0 L3173.8,399.9 L3171.0,402.7 L3168.1,405.5 L3165.1,408.1 L3162.2,410.6 L3159.2,413.1 L3156.2,415.4 L3153.1,417.7 L3150.1,419.9 L3147.0,421.9 L3143.9,423.9 L3140.8,425.8 L3137.7,427.5 L3134.5,429.2 L3131.4,430.8 L3128.2,432.2 L3125.1,433.6 L3121.9,434.8 L3118.7,435.9 L3115.6,437.0 L3112.4,437.9 L3109.3,438.7 L3106.1,439.4 L3103.0,439.9 L3099.9,440.4 L3096.8,440.8 L3093.7,441.0 L3090.6,441.1 L3087.6,441.2 L3084.6,441.1 L3081.6,440.9 L3078.6,440.5 L3075.6,440.1 L3072.7,439.6 L3069.9,438.9 L3067.0,438.1 L3064.2,437.3 L3061.4,436.3 L3058.7,435.2 L3056.0,434.0 L3053.4,432.7 L3050.8,431.2 L3048.3,429.7 L3045.8,428.1 Z" fill="url(#gsw)" stroke="#000" stroke-width="4" stroke-linejoin="round" />
<path d="M2954.7,342.0 L2956.4,348.2 L2958.5,354.2 L2960.9,359.9 L2963.5,365.4 L2966.4,370.6 L2969.6,375.5 L2973.0,380.1 L2976.7,384.5 L2980.7,388.5 L2984.9,392.2 L2989.3,395.5 L2993.9,398.5 L2998.7,401.2 L3003.7,403.5 L3008.9,405.5 L3014.3,407.1 L3019.8,408.3 L3025.5,409.2 L3031.2,409.7 L3037.1,409.8 L3043.1,409.5 L3049.2,408.9 L3055.4,407.9 L3061.6,406.5 L3067.9,404.8 L3074.2,402.7 L3080.5,400.2 L3086.8,397.4 L3093.0,394.3 L3099.3,390.8 L3105.5,387.0 L3111.6,382.8 L3117.7,378.4 L3123.7,373.7 L3129.5,368.6 L3135.3,363.3 L3140.9,357.7 L3146.4,351.9 L3151.7,345.9 L3156.8,339.6 L3161.8,333.1 L3166.5,326.4 L3171.1,319.6 L3175.4,312.6 L3179.5,305.4 L3183.4,298.1 L3187.0,290.8 L3190.4,283.3 L3193.5,275.7 L3196.3,268.1 L3198.9,260.5 L3201.1,252.8 L3203.1,245.2 L3204.8,237.5 L3206.2,229.9 L3207.2,222.4 L3208.0,214.9 L3208.5,207.5 L3208.7,200.2 L3208.5,193.1 L3208.1,186.1 L3207.3,179.2 L3206.3,172.5 L3204.9,166.0 L3203.2,159.7 L3201.3,153.7 L3199.1,147.9 L3196.5,142.3 L3193.7,137.0 L3190.6,131.9 L3187.3,127.2 L3183.7,122.7 L3179.9,118.6 L3175.8,114.8 L3171.5,111.3 L3166.9,108.1 L3162.2,105.3 L3157.2,102.8 L3152.1,100.7 L3146.8,99.0 L3141.4,97.6 L3135.8,96.6 L3130.0,96.0 L3124.2,95.7 L3118.2,95.8 L3112.1,96.3 L3106.0,97.1 L3099.8,98.4 L3093.6,100.0 L3118.7,114.4 L3124.9,112.8 L3131.1,111.6 L3137.3,110.7 L3143.3,110.2 L3149.3,110.1 L3155.2,110.4 L3160.9,111.0 L3166.5,112.0 L3172.0,113.4 L3177.2,115.2 L3182.4,117.3 L3187.3,119.7 L3192.1,122.5 L3196.6,125.7 L3200.9,129.2 L3205.0,133.0 L3208.8,137.2 L3212.4,141.6 L3215.8,146.4 L3218.8,151.4 L3221.7,156.7 L3224.2,162.3 L3226.4,168.1 L3228.4,174.2 L3230.0,180.5 L3231.4,186.9 L3232.5,193.6 L3233.2,200.5 L3233.7,207.5 L3233.8,214.6 L3233.6,221.9 L3233.2,229.3 L3232.4,236.8 L3231.3,244.3 L3229.9,251.9 L3228.2,259.6 L3226.2,267.2 L3224.0,274.9 L3221.4,282.5 L3218.6,290.1 L3215.5,297.7 L3212.1,305.2 L3208.5,312.6 L3204.7,319.8 L3200.5,327.0 L3196.2,334.0 L3191.7,340.9 L3186.9,347.5 L3182.0,354.0 L3176.8,360.3 L3171.5,366.3 L3166.0,372.2 L3160.4,377.7 L3154.7,383.0 L3148.8,388.1 L3142.8,392.8 L3136.8,397.3 L3130.6,401.4 L3124.4,405.2 L3118.2,408.7 L3111.9,411.9 L3105.6,414.7 L3099.3,417.1 L3093.0,419.2 L3086.7,421.0 L3080.5,422.3 L3074.4,423.3 L3068.3,424.0 L3062.3,424.2 L3056.4,424.1 L3050.6,423.6 L3044.9,422.8 L3039.4,421.5 L3034.0,419.9 L3028.9,418.0 L3023.8,415.6 L3019.0,413.0 L3014.4,409.9 L3010.0,406.6 L3005.8,402.9 L3001.9,398.9 L2998.2,394.5 L2994.7,389.9 L2991.5,385.0 L2988.6,379.8 L2986.0,374.3 L2983.6,368.6 L2981.6,362.6 L2979.8,356.4 Z" fill="url(#gswl)" stroke="none" clip-path="url(#cpsw)"/>
<path d="M2979.8,356.4 L2981.0,360.9 L2982.4,365.2 L2984.0,369.5 L2985.7,373.6 L2987.5,377.6 L2989.5,381.4 L2991.6,385.1 L2993.9,388.6 L2996.3,392.1 L2998.8,395.3 L3001.4,398.4 L3004.2,401.3 L3007.1,404.1 L3010.2,406.7 L3013.3,409.2 L3016.6,411.4 L3019.9,413.5 L3023.4,415.4 L3026.9,417.1 L3030.6,418.7 L3034.4,420.0 L3038.2,421.2 L3042.1,422.2 L3046.1,423.0 L3050.2,423.6 L3054.3,424.0 L3058.5,424.2 L3062.7,424.2 L3067.0,424.0 L3071.4,423.7 L3075.8,423.1 L3080.2,422.4 L3084.6,421.5 L3089.1,420.3 L3093.6,419.0 L3098.1,417.5 L3102.6,415.9 L3107.2,414.0 L3111.7,412.0 L3116.2,409.7 L3120.7,407.4 L3125.2,404.8 L3129.6,402.1 L3134.0,399.2 L3138.4,396.1 L3142.7,392.9 L3147.0,389.5 L3151.3,386.0 L3155.5,382.3 L3159.6,378.5 L3163.6,374.6 L3167.6,370.5 L3171.5,366.3 L3175.4,362.0 L3179.1,357.6 L3182.7,353.0 L3186.3,348.4 L3189.7,343.6 L3193.1,338.8 L3196.3,333.8 L3199.5,328.8 L3202.5,323.7 L3205.4,318.6 L3208.1,313.3 L3210.8,308.1 L3213.3,302.7 L3215.6,297.4 L3217.9,292.0 L3220.0,286.5 L3222.0,281.1 L3223.8,275.6 L3225.4,270.1 L3227.0,264.6 L3228.3,259.1 L3229.6,253.6 L3230.6,248.2 L3231.6,242.7 L3232.3,237.3 L3232.9,231.9 L3233.4,226.6 L3233.7,221.3 L3233.8,216.1 L3233.8,210.9 L3233.6,205.8 L3233.2,200.8 L3232.7,195.9 L3232.1,191.0 L3231.3,186.3 L3230.3,181.6" fill="none" stroke="#000" stroke-width="3.5" clip-path="url(#cpsw)"/>
<path d="M3207,190 L3238,206 L3207,220 Z" fill="#3a3a3a" stroke="#000" stroke-width="3.5" stroke-linejoin="round"/>
<path d="M3207,222 L3236,208 L3263,238 L3262,258 L3236,244 L3207,232 Z" fill="#b4b4b4" stroke="none"/>
<path d="M3207,226 L3236,210 L3263,240 M3236,210 L3233,290" fill="none" stroke="#000" stroke-width="3.5" stroke-linejoin="round"/>
<path d="M2913.3,284.3 L2913.0,280.3 L2912.8,276.3 L2912.7,273.7 L2912.6,269.7 L2912.6,265.7 L2912.7,261.5 L2912.8,259.2 L2913.0,255.1 L2913.3,251.0 L2913.8,246.9 L2914.3,242.8 L2915.0,238.6 L2915.3,236.7 L2916.1,232.6 L2916.9,228.5 L2917.9,224.4 L2918.9,220.3 L2920.1,216.2 L2921.3,212.1 L2922.7,208.0 L2923.0,206.9 L2924.5,202.9 L2925.9,199.0 L2927.5,195.1 L2929.2,191.1 L2931.0,187.3 L2932.8,183.4 L2934.8,179.6 L2936.8,175.8 L2938.9,172.1 L2941.0,168.4 L2943.3,164.7 L2945.6,161.1 L2948.0,157.6 L2950.5,154.1 L2953.0,150.7 L2955.6,147.3 L2958.3,144.0 L2961.0,140.8 L2961.7,139.9 L2964.6,136.7 L2967.5,133.5 L2970.5,130.5 L2973.5,127.5 L2976.6,124.6 L2979.7,121.8 L2982.8,119.1 L2984.3,117.9 L2987.6,115.2 L2990.9,112.6 L2994.2,110.2 L2997.6,107.8 L3000.9,105.6 L3002.9,104.3 L3006.4,102.1 L3009.9,100.1 L3013.4,98.1 L3015.7,97.0 L3019.3,95.1 L3022.9,93.4 L3026.5,91.8 L3029.0,90.8 L3032.7,89.3 L3036.4,87.9 L3040.1,86.7 L3042.7,85.8 L3046.5,84.7 L3050.2,83.7 L3053.0,83.1 L3056.7,82.3 L3060.5,81.6 L3063.3,81.1 L3067.0,80.6 L3070.8,80.1 L3073.6,79.9 L3077.4,79.6 L3081.1,79.5 L3084.0,79.5 L3087.7,79.5 L3091.4,79.7 L3094.3,79.9 L3097.9,80.2 L3101.5,80.7 L3104.4,81.1 L3107.9,81.7 L3110.8,82.3 L3114.3,83.1 L3117.7,84.0 L3120.5,84.8 L3123.9,85.9 L3126.6,86.9 L3130.0,88.1 L3133.3,89.5 L3135.9,90.7 L3139.1,92.2 L3141.7,93.6 L3144.8,95.3 L3163.6,106.1 L3166.7,107.9 L3169.6,109.9 L3172.5,112.1 L3175.2,114.3 L3177.9,116.7 L3180.5,119.2 L3183.0,121.9 L3185.4,124.7 L3187.6,127.6 L3189.8,130.7 L3191.9,133.8 L3193.8,137.1 L3195.6,140.5 L3197.4,144.0 L3199.0,147.6 L3200.4,151.4 L3201.8,155.2 L3203.1,159.1 L3204.2,163.1 L3205.2,167.2 L3206.0,171.4 L3206.8,175.6 L3207.4,180.0 L3207.9,184.4 L3208.3,188.8 L3208.5,193.4 L3208.7,198.0 L3208.6,202.6 L3208.5,207.3 L3208.2,212.1 L3207.9,216.9 L3207.3,221.7 L3206.7,226.5 L3205.9,231.4 L3205.0,236.3 L3204.0,241.2 L3202.9,246.1 L3201.6,251.1 L3200.2,256.0 L3198.7,260.9 L3197.1,265.9 L3195.3,270.8 L3193.5,275.7 L3191.5,280.5 L3189.5,285.4 L3187.3,290.2 L3185.0,295.0 L3182.6,299.7 L3180.1,304.4 L3177.5,309.0 L3174.8,313.6 L3172.0,318.1 L3169.1,322.6 L3166.2,326.9 L3163.1,331.3 L3160.0,335.5 L3156.8,339.6 L3153.5,343.7 L3150.1,347.7 L3146.7,351.6 L3143.2,355.4 L3139.6,359.0 L3136.0,362.6 L3132.3,366.1 L3128.6,369.4 L3124.8,372.7 L3121.0,375.8 L3117.1,378.8 L3113.2,381.7 L3109.3,384.5 L3105.3,387.1 L3101.4,389.6 L3097.3,391.9 L3093.3,394.1 L3089.3,396.2 L3085.2,398.2 L3081.2,399.9 L3077.1,401.6 L3073.1,403.1 L3069.0,404.4 L3065.0,405.7 L3060.9,406.7 L3056.9,407.6 L3052.9,408.3 L3049.0,408.9 L3045.1,409.4 L3041.2,409.7 L3037.3,409.8 L3033.5,409.8 L3029.7,409.6 L3026.0,409.3 L3022.3,408.8 L3018.7,408.1 L3015.2,407.3 L3011.7,406.4 L3008.3,405.3 L3004.9,404.0 L3001.6,402.6 L2998.4,401.1 L2995.3,399.4 L2976.5,388.6 L2973.4,386.7 L2971.0,385.2 L2968.0,383.2 L2965.7,381.5 L2962.8,379.4 L2960.1,377.2 L2957.8,375.3 L2955.2,372.9 L2953.1,370.9 L2950.5,368.4 L2948.1,365.8 L2946.1,363.6 L2943.8,360.9 L2942.0,358.6 L2939.8,355.7 L2937.7,352.7 L2936.0,350.3 L2934.0,347.2 L2932.2,344.1 L2930.7,341.5 L2929.0,338.3 L2927.3,334.9 L2926.1,332.3 L2924.5,328.9 L2923.1,325.4 L2922.1,322.7 L2920.8,319.1 L2919.6,315.4 L2918.8,312.7 L2917.7,309.0 L2916.8,305.2 L2916.2,302.5 L2915.4,298.7 L2914.7,294.8 L2914.2,290.9 L2913.8,288.3 Z" fill="url(#ghead)" stroke="#000" stroke-width="4" stroke-linejoin="round" />
<path d="M2957.7,376.8 L2961.1,379.4 L2964.6,381.7 L2968.3,383.9 L2972.1,385.8 L2976.0,387.5 L2979.9,389.0 L2984.0,390.3 L2988.2,391.4 L2992.5,392.3 L2996.9,392.9 L3001.3,393.4 L3005.8,393.6 L3010.4,393.5 L3015.0,393.3 L3019.7,392.8 L3024.4,392.2 L3029.2,391.3 L3034.0,390.1 L3038.8,388.8 L3043.6,387.3 L3048.5,385.5 L3053.3,383.5 L3058.2,381.4 L3063.0,379.0 L3067.9,376.4 L3072.6,373.6 L3077.4,370.6 L3082.1,367.5 L3086.8,364.1 L3091.5,360.6 L3096.1,356.9 L3100.6,353.0 L3105.0,349.0 L3109.4,344.8 L3113.7,340.4 L3117.9,335.9 L3122.0,331.3 L3126.0,326.5 L3129.9,321.7 L3133.7,316.6 L3137.4,311.5 L3140.9,306.3 L3144.3,300.9 L3147.6,295.5 L3150.8,290.0 L3153.8,284.4 L3156.7,278.8 L3159.4,273.1 L3162.0,267.3 L3164.4,261.5 L3166.7,255.7 L3168.8,249.8 L3170.7,243.9 L3172.4,238.0 L3174.0,232.1 L3175.5,226.3 L3176.7,220.4 L3177.8,214.5 L3178.6,208.7 L3179.3,202.9 L3179.9,197.2 L3180.2,191.5 L3180.4,185.9 L3180.4,180.3 L3180.2,174.9 L3179.8,169.5 L3179.2,164.2 L3178.5,159.0 L3177.5,154.0 L3176.4,149.0 L3175.2,144.2 L3173.7,139.5 L3172.1,134.9 L3170.3,130.5 L3168.3,126.2 L3166.2,122.1 L3163.9,118.1 L3161.4,114.3 L3158.8,110.7 L3156.1,107.3 L3153.2,104.0 L3150.1,100.9 L3146.9,98.1 L3143.6,95.4 L3140.2,92.9 L3136.6,90.6 L3132.9,88.5 L3129.1,86.7 L3125.1,85.0 L3153.4,101.2 L3157.3,102.9 L3161.2,104.8 L3164.9,106.8 L3168.4,109.1 L3171.9,111.6 L3175.2,114.3 L3178.4,117.2 L3181.4,120.2 L3184.4,123.5 L3187.1,126.9 L3189.7,130.6 L3192.2,134.3 L3194.5,138.3 L3196.6,142.4 L3198.6,146.7 L3200.4,151.1 L3202.0,155.7 L3203.4,160.4 L3204.7,165.2 L3205.8,170.2 L3206.7,175.3 L3207.5,180.4 L3208.0,185.7 L3208.4,191.1 L3208.6,196.6 L3208.7,202.1 L3208.5,207.7 L3208.1,213.4 L3207.6,219.1 L3206.9,224.9 L3206.0,230.7 L3205.0,236.6 L3203.7,242.5 L3202.3,248.4 L3200.7,254.3 L3199.0,260.2 L3197.0,266.0 L3194.9,271.9 L3192.7,277.7 L3190.3,283.5 L3187.7,289.3 L3185.0,295.0 L3182.1,300.7 L3179.1,306.2 L3175.9,311.8 L3172.6,317.2 L3169.2,322.5 L3165.6,327.7 L3162.0,332.9 L3158.2,337.9 L3154.3,342.8 L3150.3,347.5 L3146.1,352.2 L3141.9,356.7 L3137.7,361.0 L3133.3,365.2 L3128.8,369.2 L3124.3,373.1 L3119.7,376.8 L3115.1,380.3 L3110.4,383.7 L3105.7,386.9 L3100.9,389.8 L3096.1,392.6 L3091.3,395.2 L3086.5,397.6 L3081.6,399.8 L3076.8,401.7 L3071.9,403.5 L3067.1,405.0 L3062.3,406.4 L3057.5,407.5 L3052.7,408.4 L3048.0,409.1 L3043.3,409.5 L3038.7,409.8 L3034.1,409.8 L3029.6,409.6 L3025.1,409.2 L3020.8,408.5 L3016.5,407.6 L3012.3,406.6 L3008.2,405.3 L3004.2,403.7 L3000.3,402.0 L2996.6,400.1 L2992.9,397.9 L2989.4,395.6 L2985.9,393.0 Z" fill="url(#gband)" stroke="none" clip-path="url(#cph)"/>
<path d="M2957.7,376.8 L2961.1,379.4 L2964.6,381.7 L2968.3,383.9 L2972.1,385.8 L2976.0,387.5 L2979.9,389.0 L2984.0,390.3 L2988.2,391.4 L2992.5,392.3 L2996.9,392.9 L3001.3,393.4 L3005.8,393.6 L3010.4,393.5 L3015.0,393.3 L3019.7,392.8 L3024.4,392.2 L3029.2,391.3 L3034.0,390.1 L3038.8,388.8 L3043.6,387.3 L3048.5,385.5 L3053.3,383.5 L3058.2,381.4 L3063.0,379.0 L3067.9,376.4 L3072.6,373.6 L3077.4,370.6 L3082.1,367.5 L3086.8,364.1 L3091.5,360.6 L3096.1,356.9 L3100.6,353.0 L3105.0,349.0 L3109.4,344.8 L3113.7,340.4 L3117.9,335.9 L3122.0,331.3 L3126.0,326.5 L3129.9,321.7 L3133.7,316.6 L3137.4,311.5 L3140.9,306.3 L3144.3,300.9 L3147.6,295.5 L3150.8,290.0 L3153.8,284.4 L3156.7,278.8 L3159.4,273.1 L3162.0,267.3 L3164.4,261.5 L3166.7,255.7 L3168.8,249.8 L3170.7,243.9 L3172.4,238.0 L3174.0,232.1 L3175.5,226.3 L3176.7,220.4 L3177.8,214.5 L3178.6,208.7 L3179.3,202.9 L3179.9,197.2 L3180.2,191.5 L3180.4,185.9 L3180.4,180.3 L3180.2,174.9 L3179.8,169.5 L3179.2,164.2 L3178.5,159.0 L3177.5,154.0 L3176.4,149.0 L3175.2,144.2 L3173.7,139.5 L3172.1,134.9 L3170.3,130.5 L3168.3,126.2 L3166.2,122.1 L3163.9,118.1 L3161.4,114.3 L3158.8,110.7 L3156.1,107.3 L3153.2,104.0 L3150.1,100.9 L3146.9,98.1 L3143.6,95.4 L3140.2,92.9 L3136.6,90.6 L3132.9,88.5 L3129.1,86.7 L3125.1,85.0" fill="none" stroke="#000" stroke-width="3.5" clip-path="url(#cph)"/>
<g filter="url(#blur3)">
<path d="M3121,137 L3137,128 L3156,166 L3139,190 L3125,165 Z" fill="#ffffff" stroke="none" opacity="0.95"/>
<path d="M3055,272 L3075,238 L3108,232 L3098,262 L3080,300 L3060,305 Z" fill="#e4e4e4" stroke="none" opacity="0.8"/>
<path d="M3010,318 L3025,300 L3038,312 L3030,336 L3014,338 Z" fill="#e8e8e8" stroke="none" opacity="0.75"/>
<path d="M3060,300 L3090,290 L3095,312 L3070,322 Z" fill="#dcdcdc" stroke="none" opacity="0.75"/>
<path d="M2965,330 L3000,318 L3012,328 L2978,340 Z" fill="#cfcfcf" stroke="none" opacity="0.75"/>
</g>
<ellipse cx="3003.0" cy="208.9" rx="61.9" ry="92.6" transform="rotate(29.9 3003.0 208.9)" fill="#8e8e8e" stroke="#000" stroke-width="4" />
<path d="M3045.8,176.2 L3048.7,172.8 L3051.1,168.8 L3052.7,164.5 L3053.4,160.3 L3053.2,156.3 L3052.0,153.0 L3050.0,150.4 L3047.3,148.9 L3044.1,148.5 L3040.6,149.3 L3037.1,151.1 L3033.8,153.9 L3030.9,157.4 L3031.0,157.4 L3028.6,160.3 L3025.9,162.6 L3023.1,164.0 L3020.2,164.6 L3017.6,164.3 L3015.5,163.0 L3013.9,160.9 L3013.0,158.1 L3012.8,154.9 L3012.9,154.9 L3012.7,150.9 L3011.6,147.5 L3009.7,144.9 L3007.0,143.3 L3003.9,142.8 L3000.4,143.5 L2996.8,145.2 L2993.5,147.9 L2990.6,151.4 L2988.4,155.5 L2986.9,159.8 L2986.3,164.0 L2986.7,167.9 L2986.7,167.8 L2987.0,171.0 L2986.5,174.4 L2985.3,177.9 L2983.5,181.2 L2981.1,184.0 L2978.4,186.2 L2975.5,187.6 L2972.7,188.1 L2970.1,187.6 L2970.1,187.6 L2967.0,187.0 L2963.5,187.6 L2960.0,189.2 L2956.7,191.9 L2953.7,195.4 L2951.4,199.4 L2949.9,203.6 L2949.2,207.9 L2949.5,211.8 L2950.7,215.1 L2952.8,217.6 L2955.5,219.0 L2958.8,219.3 L2958.8,219.3 L2961.4,219.6 L2963.6,220.7 L2965.3,222.8 L2966.3,225.5 L2966.5,228.7 L2965.9,232.1 L2964.7,235.6 L2962.7,238.8 L2960.3,241.6 L2960.3,241.6 L2957.3,245.0 L2955.0,249.0 L2953.4,253.2 L2952.7,257.5 L2952.9,261.4 L2954.0,264.8 L2956.0,267.3 L2958.7,268.8 L2961.9,269.2 L2965.4,268.5 L2968.9,266.7 L2972.3,263.9 L2975.1,260.3 L2975.1,260.3 L2977.4,257.4 L2980.1,255.2 L2983.0,253.7 L2985.8,253.1 L2988.4,253.5 L2990.6,254.8 L2992.2,256.9 L2993.1,259.6 L2993.2,262.9 L2993.2,262.9 L2993.4,266.9 L2994.4,270.3 L2996.4,272.9 L2999.0,274.5 L3002.2,275.0 L3005.7,274.3 L3009.2,272.5 L3012.5,269.8 L3015.4,266.3 L3017.7,262.3 L3019.2,258.0 L3019.7,253.8 L3019.4,249.9 L3019.3,249.9 L3019.0,246.8 L3019.5,243.3 L3020.7,239.8 L3022.6,236.6 L3025.0,233.7 L3027.7,231.5 L3030.6,230.2 L3033.4,229.7 L3035.9,230.2 L3035.9,230.2 L3039.1,230.8 L3042.5,230.2 L3046.1,228.5 L3049.4,225.9 L3052.3,222.4 L3054.7,218.4 L3056.2,214.1 L3056.8,209.9 L3056.5,206.0 L3055.3,202.7 L3053.3,200.2 L3050.5,198.8 L3047.3,198.4 L3047.3,198.5 L3044.6,198.2 L3042.4,197.0 L3040.8,195.0 L3039.8,192.3 L3039.6,189.1 L3040.1,185.6 L3041.4,182.2 L3043.3,178.9 L3045.7,176.2 Z" fill="url(#gwall)" stroke="none" stroke-width="0" stroke-linejoin="round" />
<path d="M3082.4,197.2 L3085.4,193.8 L3087.8,189.8 L3089.3,185.6 L3090.1,181.3 L3089.8,177.4 L3088.7,174.0 L3086.7,171.5 L3084.0,170.0 L3080.8,169.5 L3077.3,170.3 L3073.8,172.1 L3070.4,174.9 L3067.6,178.5 L3067.6,178.5 L3065.3,181.4 L3062.6,183.6 L3059.7,185.1 L3056.9,185.7 L3054.3,185.3 L3052.1,184.0 L3050.5,181.9 L3049.6,179.2 L3049.5,175.9 L3049.5,175.9 L3049.4,171.9 L3048.3,168.5 L3046.3,165.9 L3043.7,164.3 L3040.5,163.8 L3037.0,164.5 L3033.5,166.2 L3030.2,169.0 L3027.3,172.5 L3025.0,176.5 L3023.5,180.8 L3023.0,185.0 L3023.3,188.9 L3023.4,188.9 L3023.7,192.0 L3023.2,195.5 L3022.0,199.0 L3020.1,202.2 L3017.7,205.1 L3015.0,207.2 L3012.2,208.6 L3009.3,209.1 L3006.8,208.6 L3006.8,208.6 L3003.6,208.0 L3000.2,208.6 L2996.7,210.3 L2993.3,212.9 L2990.4,216.4 L2988.0,220.4 L2986.5,224.7 L2985.9,228.9 L2986.2,232.8 L2987.4,236.1 L2989.5,238.6 L2992.2,240.0 L2995.4,240.4 L2995.4,240.3 L2998.1,240.6 L3000.3,241.8 L3001.9,243.8 L3002.9,246.5 L3003.1,249.7 L3002.6,253.1 L3001.3,256.6 L2999.4,259.9 L2997.0,262.6 L2996.9,262.6 L2994.0,266.0 L2991.6,270.0 L2990.0,274.3 L2989.3,278.5 L2989.5,282.5 L2990.7,285.8 L2992.7,288.3 L2995.4,289.9 L2998.6,290.3 L3002.1,289.5 L3005.6,287.7 L3008.9,284.9 L3011.8,281.4 L3011.8,281.4 L3014.1,278.5 L3016.8,276.2 L3019.6,274.7 L3022.5,274.2 L3025.1,274.5 L3027.2,275.8 L3028.8,277.9 L3029.7,280.7 L3029.9,283.9 L3029.8,283.9 L3030.0,287.9 L3031.1,291.3 L3033.0,293.9 L3035.7,295.5 L3038.9,296.0 L3042.3,295.3 L3045.9,293.6 L3049.2,290.9 L3052.1,287.4 L3054.4,283.3 L3055.8,279.0 L3056.4,274.8 L3056.0,270.9 L3056.0,270.9 L3055.7,267.8 L3056.2,264.3 L3057.4,260.9 L3059.2,257.6 L3061.6,254.8 L3064.3,252.6 L3067.2,251.2 L3070.0,250.7 L3072.6,251.2 L3072.6,251.2 L3075.7,251.8 L3079.2,251.2 L3082.7,249.5 L3086.1,246.9 L3089.0,243.4 L3091.3,239.4 L3092.8,235.1 L3093.5,230.9 L3093.2,227.0 L3092.0,223.7 L3089.9,221.2 L3087.2,219.8 L3083.9,219.5 L3083.9,219.5 L3081.3,219.2 L3079.1,218.0 L3077.4,216.0 L3076.4,213.3 L3076.2,210.1 L3076.8,206.7 L3078.1,203.2 L3080.0,200.0 L3082.4,197.2 Z" fill="url(#gtbot)" stroke="#000" stroke-width="3" clip-path="url(#cptx)"/>
<path d="M2991,167 l31.2,17.9" fill="none" stroke="#e6e6e6" stroke-width="5" clip-path="url(#cptx)"/>
<path d="M2991,174 l31.2,17.9" fill="none" stroke="#000" stroke-width="2.5" clip-path="url(#cptx)"/>
<path d="M2958,222 l31.2,17.9" fill="none" stroke="#e6e6e6" stroke-width="5" clip-path="url(#cptx)"/>
<path d="M2958,229 l31.2,17.9" fill="none" stroke="#000" stroke-width="2.5" clip-path="url(#cptx)"/>
<path d="M2974,255 l31.2,17.9" fill="none" stroke="#e6e6e6" stroke-width="5" clip-path="url(#cptx)"/>
<path d="M2974,262 l31.2,17.9" fill="none" stroke="#000" stroke-width="2.5" clip-path="url(#cptx)"/>
<path d="M3045.8,176.2 L3048.7,172.8 L3051.1,168.8 L3052.7,164.5 L3053.4,160.3 L3053.2,156.3 L3052.0,153.0 L3050.0,150.4 L3047.3,148.9 L3044.1,148.5 L3040.6,149.3 L3037.1,151.1 L3033.8,153.9 L3030.9,157.4 L3031.0,157.4 L3028.6,160.3 L3025.9,162.6 L3023.1,164.0 L3020.2,164.6 L3017.6,164.3 L3015.5,163.0 L3013.9,160.9 L3013.0,158.1 L3012.8,154.9 L3012.9,154.9 L3012.7,150.9 L3011.6,147.5 L3009.7,144.9 L3007.0,143.3 L3003.9,142.8 L3000.4,143.5 L2996.8,145.2 L2993.5,147.9 L2990.6,151.4 L2988.4,155.5 L2986.9,159.8 L2986.3,164.0 L2986.7,167.9 L2986.7,167.8 L2987.0,171.0 L2986.5,174.4 L2985.3,177.9 L2983.5,181.2 L2981.1,184.0 L2978.4,186.2 L2975.5,187.6 L2972.7,188.1 L2970.1,187.6 L2970.1,187.6 L2967.0,187.0 L2963.5,187.6 L2960.0,189.2 L2956.7,191.9 L2953.7,195.4 L2951.4,199.4 L2949.9,203.6 L2949.2,207.9 L2949.5,211.8 L2950.7,215.1 L2952.8,217.6 L2955.5,219.0 L2958.8,219.3 L2958.8,219.3 L2961.4,219.6 L2963.6,220.7 L2965.3,222.8 L2966.3,225.5 L2966.5,228.7 L2965.9,232.1 L2964.7,235.6 L2962.7,238.8 L2960.3,241.6 L2960.3,241.6 L2957.3,245.0 L2955.0,249.0 L2953.4,253.2 L2952.7,257.5 L2952.9,261.4 L2954.0,264.8 L2956.0,267.3 L2958.7,268.8 L2961.9,269.2 L2965.4,268.5 L2968.9,266.7 L2972.3,263.9 L2975.1,260.3 L2975.1,260.3 L2977.4,257.4 L2980.1,255.2 L2983.0,253.7 L2985.8,253.1 L2988.4,253.5 L2990.6,254.8 L2992.2,256.9 L2993.1,259.6 L2993.2,262.9 L2993.2,262.9 L2993.4,266.9 L2994.4,270.3 L2996.4,272.9 L2999.0,274.5 L3002.2,275.0 L3005.7,274.3 L3009.2,272.5 L3012.5,269.8 L3015.4,266.3 L3017.7,262.3 L3019.2,258.0 L3019.7,253.8 L3019.4,249.9 L3019.3,249.9 L3019.0,246.8 L3019.5,243.3 L3020.7,239.8 L3022.6,236.6 L3025.0,233.7 L3027.7,231.5 L3030.6,230.2 L3033.4,229.7 L3035.9,230.2 L3035.9,230.2 L3039.1,230.8 L3042.5,230.2 L3046.1,228.5 L3049.4,225.9 L3052.3,222.4 L3054.7,218.4 L3056.2,214.1 L3056.8,209.9 L3056.5,206.0 L3055.3,202.7 L3053.3,200.2 L3050.5,198.8 L3047.3,198.4 L3047.3,198.5 L3044.6,198.2 L3042.4,197.0 L3040.8,195.0 L3039.8,192.3 L3039.6,189.1 L3040.1,185.6 L3041.4,182.2 L3043.3,178.9 L3045.7,176.2 Z" fill="none" stroke="#000" stroke-width="4" stroke-linejoin="round" />
</svg>
</body></html>
